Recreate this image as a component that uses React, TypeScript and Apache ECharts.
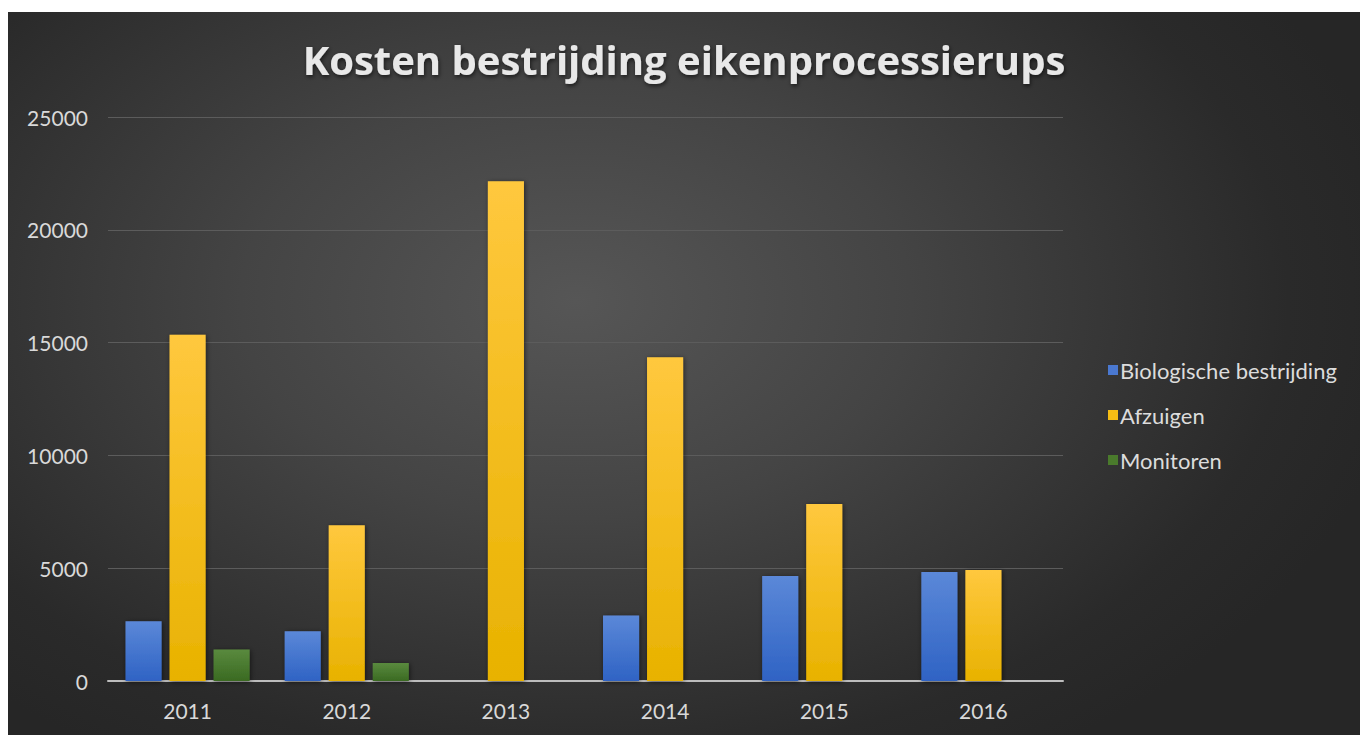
import React, { useEffect, useRef } from "react";
import * as echarts from "echarts";

const categories = ["2011", "2012", "2013", "2014", "2015", "2016"];
const biologisch = [2650, 2200, 0, 2900, 4650, 4830];
const afzuigen = [15350, 6900, 22150, 14350, 7850, 4920];
const monitoren = [1400, 800, 0, 0, 0, 0];
const yTicks = [0, 5000, 10000, 15000, 20000, 25000];

const grad = (top: string, bottom: string) =>
  new echarts.graphic.LinearGradient(0, 0, 0, 1, [
    { offset: 0, color: top },
    { offset: 1, color: bottom },
  ]);

export default function App() {
  const ref = useRef<HTMLDivElement>(null);
  useEffect(() => {
    if (!ref.current) return;
    const chart = echarts.init(ref.current, null, { renderer: "svg" });
    const font = "Lato, 'Open Sans', sans-serif";
    const barStyle = (t: string, b: string) => ({
      color: grad(t, b),
      shadowColor: "rgba(0,0,0,0.55)",
      shadowBlur: 5,
      shadowOffsetX: 1,
      shadowOffsetY: 1,
    });
    chart.setOption({
      animation: false,
      backgroundColor: "transparent",
      title: {
        text: "Kosten bestrijding eikenprocessierups",
        left: "center",
        top: 22,
        textStyle: {
          color: "#e8e8e8",
          fontFamily: "'Open Sans', sans-serif",
          fontWeight: "bold",
          fontSize: 40,
          textShadowColor: "rgba(0,0,0,0.6)",
          textShadowBlur: 4,
          textShadowOffsetX: 1,
          textShadowOffsetY: 2,
        },
      },
      legend: {
        orient: "vertical",
        left: 1095,
        top: 342,
        itemWidth: 10,
        itemHeight: 10,
        itemGap: 23,
        icon: "rect",
        textStyle: { color: "#dcdcdc", fontSize: 22, fontFamily: font, padding: [0, 0, 0, -3] },
        data: [
          { name: "Biologische bestrijding", itemStyle: { color: "#4a78d0" } },
          { name: "Afzuigen", itemStyle: { color: "#f5bd14" } },
          { name: "Monitoren", itemStyle: { color: "#4a7a2c" } },
        ],
      },
      grid: { left: 100, right: 297, top: 105, bottom: 54, containLabel: false },
      xAxis: {
        type: "category",
        data: categories,
        axisLine: { show: true, lineStyle: { color: "#bdbdbd", width: 2 } },
        axisTick: { show: false },
        axisLabel: { color: "#d9d9d9", fontSize: 21, fontFamily: font, margin: 19 },
      },
      yAxis: {
        type: "value",
        min: 0,
        max: 25000,
        interval: 5000,
        axisLine: { show: false },
        axisTick: { show: false },
        axisLabel: {
          color: "#d9d9d9",
          fontSize: 21,
          fontFamily: font,
          margin: 20,
          formatter: (v: number) => (yTicks.includes(v) ? String(v) : ""),
        },
        splitLine: { lineStyle: { color: "#5c5c5c", width: 1 } },
      },
      series: [
        {
          name: "Biologische bestrijding",
          type: "bar",
          data: biologisch,
          barGap: "22%",
          barCategoryGap: "22%",
          itemStyle: barStyle("#5b88d8", "#2f63c4"),
        },
        {
          name: "Afzuigen",
          type: "bar",
          data: afzuigen,
          itemStyle: barStyle("#ffc83e", "#e8b200"),
        },
        {
          name: "Monitoren",
          type: "bar",
          data: monitoren,
          itemStyle: barStyle("#5a8a3e", "#3a6a22"),
        },
      ],
    });
    return () => chart.dispose();
  }, []);
  return (
    <div
      style={{
        position: "absolute",
        left: 8,
        top: 12,
        width: 1352,
        height: 723,
        background:
          "radial-gradient(ellipse 62% 75% at 42% 40%, #565656 0%, #444 40%, #2a2a2a 85%, #262626 100%)",
      }}
    >
      <div ref={ref} style={{ width: 1352, height: 723 }} />
    </div>
  );
}
